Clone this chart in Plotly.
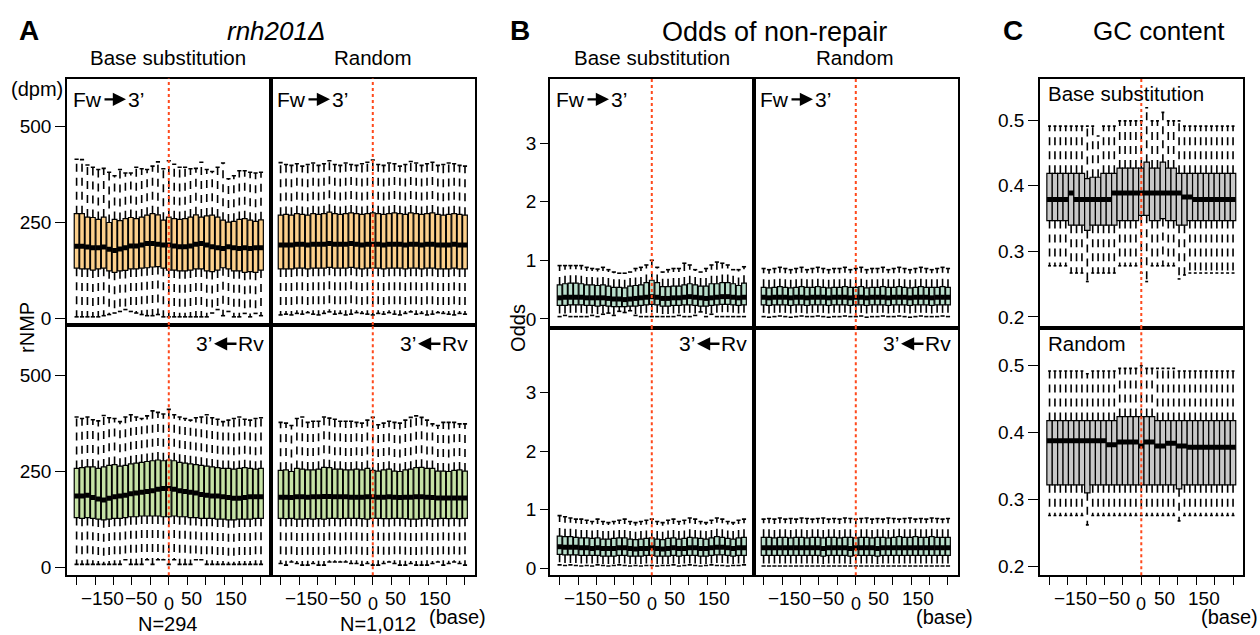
import numpy as np
import plotly.graph_objects as go

W, H = 1260, 635
FONT = "Liberation Sans, Arial, Helvetica, sans-serif"

# ---------------- categories / axes ----------------
positions = [-221, -208, -195, -182, -169, -156, -143, -130, -117, -104, -91, -78,
             -65, -52, -39, -26, -13, 0, 13, 26, 39, 52, 65, 78, 91, 104, 117,
             130, 143, 156, 169, 182, 195, 208, 221]
x_tick_positions = [-221, -176.8, -132.6, -88.4, -44.2, 0, 44.2, 88.4, 132.6, 176.8, 221]
x_label_values = [-150, -50, 50, 150]
x_label_text = ["\u2212150", "\u221250", "50", "150"]
x_label_shift = [-4, -7, 2, 0]
center_pos = 0

a_y_ticks = [0, 250, 500]
b_y_ticks = [0, 1, 2, 3]
c_y_ticks = [0.2, 0.3, 0.4, 0.5]

# ---------------- A: rNMP (dpm) ----------------
# Base substitution, Fw
a_bs_fw_upper = [414, 413, 399, 393, 387, 390, 380, 371, 387, 378, 378, 393, 389, 387, 396, 407, 389,
                 410, 401, 393, 393, 389, 390, 406, 387, 382, 393, 404, 363, 371, 384, 384, 380, 378, 380]
a_bs_fw_q3 = [272, 272, 263, 262, 257, 263, 249, 257, 254, 259, 262, 259, 263, 268, 272, 269, 255,
              263, 259, 257, 259, 263, 269, 263, 266, 268, 263, 255, 250, 252, 257, 259, 255, 252, 256]
a_bs_fw_med = [187, 187, 185, 183, 183, 185, 179, 176, 180, 183, 188, 188, 190, 194, 194, 192, 190,
               190, 188, 186, 186, 188, 192, 194, 190, 186, 183, 181, 186, 183, 181, 183, 181, 183, 183]
a_bs_fw_q1 = [130, 128, 128, 125, 128, 130, 123, 119, 123, 124, 128, 128, 130, 131, 133, 134, 130,
              125, 125, 123, 123, 125, 128, 128, 123, 121, 125, 131, 128, 123, 123, 119, 121, 119, 125]
a_bs_fw_lower = [3, 3, 3, 3, 3, 6, 9, 13, 17, 22, 17, 13, 9, 6, 6, 9, 3,
                 3, 3, 3, 3, 3, 3, 3, 3, 13, 22, 6, 17, 3, 3, 12, 3, 12, 6]
# Random, Fw
a_rd_fw_upper = [405, 400, 398, 402, 396, 400, 404, 398, 402, 410, 400, 398, 404, 400, 398, 402, 406,
                 412, 400, 398, 404, 402, 396, 400, 408, 404, 398, 402, 406, 398, 400, 404, 402, 398, 396]
a_rd_fw_q3 = [268, 270, 268, 272, 270, 268, 272, 270, 272, 276, 272, 270, 272, 274, 272, 270, 272,
              274, 272, 270, 272, 274, 272, 270, 274, 272, 270, 272, 274, 270, 268, 270, 272, 270, 268]
a_rd_fw_med = [190, 190, 190, 192, 192, 190, 192, 192, 192, 194, 192, 192, 192, 194, 192, 190, 192,
               192, 192, 190, 192, 192, 192, 190, 192, 192, 190, 192, 192, 190, 190, 190, 192, 190, 190]
a_rd_fw_q1 = [128, 128, 128, 130, 130, 128, 130, 130, 130, 132, 130, 130, 130, 132, 130, 128, 130,
              130, 130, 128, 130, 130, 130, 128, 130, 130, 128, 130, 130, 128, 128, 128, 130, 128, 128]
a_rd_fw_lower = [8, 10, 8, 12, 10, 14, 10, 8, 12, 16, 10, 12, 8, 10, 14, 12, 10,
                 8, 12, 10, 14, 10, 8, 12, 16, 10, 12, 8, 10, 14, 12, 10, 8, 12, 10]
# Base substitution, Rv
a_bs_rv_upper = [392, 388, 392, 385, 382, 396, 390, 388, 380, 392, 398, 392, 388, 395, 408, 404, 400,
                 412, 398, 392, 388, 384, 390, 392, 398, 390, 386, 380, 384, 388, 392, 386, 384, 388, 390]
a_bs_rv_q3 = [258, 260, 262, 262, 258, 262, 266, 268, 264, 266, 270, 272, 274, 276, 278, 280, 278,
              280, 278, 274, 272, 270, 268, 266, 264, 262, 260, 258, 258, 256, 258, 260, 258, 256, 258]
a_bs_rv_med = [186, 186, 188, 182, 178, 176, 180, 184, 186, 188, 192, 194, 196, 198, 200, 204, 206,
               206, 204, 200, 198, 196, 194, 190, 188, 186, 186, 184, 182, 180, 180, 182, 184, 184, 184]
a_bs_rv_q1 = [130, 128, 130, 128, 126, 124, 126, 128, 128, 130, 132, 132, 134, 134, 134, 134, 132,
              132, 134, 132, 132, 130, 130, 128, 128, 128, 126, 126, 124, 124, 126, 126, 126, 128, 128]
a_bs_rv_lower = [8, 8, 8, 8, 8, 8, 8, 8, 8, 20, 8, 8, 8, 20, 8, 20, 20,
                 8, 20, 8, 8, 8, 20, 20, 8, 8, 8, 8, 8, 8, 8, 8, 8, 8, 8]
# Random, Rv
a_rd_rv_upper = [378, 376, 370, 388, 392, 378, 381, 381, 392, 389, 386, 381, 381, 381, 378, 376, 384,
                 391, 372, 376, 381, 378, 376, 384, 391, 395, 391, 384, 374, 370, 378, 378, 378, 374, 374]
a_rd_rv_q3 = [253, 254, 250, 258, 256, 254, 254, 256, 261, 260, 256, 256, 254, 254, 256, 254, 258,
              253, 251, 254, 256, 251, 250, 254, 256, 260, 261, 258, 258, 251, 251, 250, 253, 254, 251]
a_rd_rv_med = [183, 183, 182, 184, 184, 183, 184, 184, 185, 185, 184, 184, 184, 183, 183, 183, 184,
               184, 183, 183, 184, 183, 182, 183, 183, 184, 184, 183, 182, 181, 181, 181, 181, 181, 181]
a_rd_rv_q1 = [128, 127, 128, 126, 126, 127, 126, 127, 126, 128, 128, 127, 128, 128, 128, 127, 126,
              128, 128, 127, 127, 128, 128, 127, 126, 126, 127, 128, 126, 127, 128, 127, 128, 127, 128]
a_rd_rv_lower = [10, 6, 14, 10, 6, 6, 10, 6, 6, 14, 14, 14, 14, 10, 10, 6, 10,
                 6, 6, 10, 14, 10, 6, 6, 10, 6, 6, 6, 10, 14, 6, 10, 14, 10, 6]

# ---------------- B: odds of non-repair ----------------
b_bs_fw_upper = [0.91, 0.91, 0.91, 0.91, 0.91, 0.88, 0.86, 0.85, 0.88, 0.84, 0.80, 0.78, 0.78, 0.80, 0.86, 0.88, 0.92,
                 1.00, 0.88, 0.80, 0.84, 0.86, 0.86, 0.95, 0.92, 0.84, 0.80, 0.86, 0.92, 0.97, 0.95, 0.92, 0.84, 0.84, 0.89]
b_bs_fw_q3 = [0.58, 0.60, 0.61, 0.61, 0.60, 0.58, 0.58, 0.57, 0.58, 0.56, 0.54, 0.54, 0.53, 0.56, 0.57, 0.58, 0.62,
              0.66, 0.62, 0.55, 0.55, 0.56, 0.56, 0.58, 0.60, 0.58, 0.56, 0.56, 0.60, 0.60, 0.62, 0.62, 0.60, 0.57, 0.61]
b_bs_fw_med = [0.36, 0.37, 0.37, 0.37, 0.37, 0.36, 0.36, 0.36, 0.36, 0.35, 0.34, 0.34, 0.33, 0.34, 0.35, 0.36, 0.37,
               0.38, 0.37, 0.35, 0.35, 0.36, 0.36, 0.37, 0.38, 0.37, 0.36, 0.35, 0.36, 0.37, 0.38, 0.38, 0.37, 0.36, 0.37]
b_bs_fw_q1 = [0.23, 0.23, 0.24, 0.24, 0.24, 0.23, 0.23, 0.22, 0.23, 0.22, 0.21, 0.21, 0.21, 0.22, 0.22, 0.23, 0.24,
              0.25, 0.24, 0.22, 0.22, 0.23, 0.23, 0.24, 0.24, 0.23, 0.22, 0.22, 0.23, 0.24, 0.25, 0.25, 0.24, 0.23, 0.24]
b_bs_fw_lower = [0.04, 0.06, 0.04, 0.04, 0.04, 0.04, 0.06, 0.04, 0.08, 0.10, 0.06, 0.13, 0.11, 0.14, 0.06, 0.04, 0.04,
                 0.04, 0.04, 0.04, 0.04, 0.04, 0.06, 0.04, 0.04, 0.06, 0.12, 0.04, 0.08, 0.04, 0.04, 0.04, 0.04, 0.04, 0.04]

b_rd_fw_upper = [0.86, 0.84, 0.86, 0.88, 0.86, 0.84, 0.86, 0.88, 0.84, 0.86, 0.88, 0.86, 0.84, 0.86, 0.86, 0.88, 0.84,
                 0.86, 0.88, 0.84, 0.86, 0.86, 0.88, 0.84, 0.86, 0.88, 0.86, 0.84, 0.86, 0.88, 0.86, 0.84, 0.86, 0.88, 0.86]
b_rd_fw_q3 = [0.54, 0.53, 0.54, 0.55, 0.54, 0.53, 0.54, 0.55, 0.54, 0.54, 0.55, 0.54, 0.53, 0.54, 0.54, 0.55, 0.54,
              0.54, 0.55, 0.53, 0.54, 0.54, 0.55, 0.54, 0.54, 0.55, 0.54, 0.53, 0.54, 0.55, 0.54, 0.54, 0.54, 0.55, 0.54]
b_rd_fw_med = [0.37, 0.36, 0.37, 0.37, 0.37, 0.36, 0.37, 0.37, 0.36, 0.37, 0.37, 0.37, 0.36, 0.37, 0.37, 0.37, 0.36,
               0.37, 0.37, 0.36, 0.37, 0.37, 0.37, 0.36, 0.37, 0.37, 0.37, 0.36, 0.37, 0.37, 0.37, 0.36, 0.37, 0.37, 0.37]
b_rd_fw_q1 = [0.24, 0.23, 0.24, 0.24, 0.24, 0.23, 0.24, 0.24, 0.23, 0.24, 0.24, 0.24, 0.23, 0.24, 0.24, 0.24, 0.23,
              0.24, 0.24, 0.23, 0.24, 0.24, 0.24, 0.23, 0.24, 0.24, 0.24, 0.23, 0.24, 0.24, 0.24, 0.23, 0.24, 0.24, 0.24]
b_rd_fw_lower = [0.04, 0.03, 0.04, 0.05, 0.04, 0.03, 0.04, 0.05, 0.04, 0.04, 0.05, 0.04, 0.03, 0.04, 0.04, 0.05, 0.04,
                 0.04, 0.05, 0.03, 0.04, 0.04, 0.05, 0.04, 0.04, 0.05, 0.04, 0.03, 0.04, 0.05, 0.04, 0.04, 0.04, 0.05, 0.04]

b_bs_rv_upper = [0.90, 0.88, 0.86, 0.84, 0.84, 0.82, 0.80, 0.84, 0.80, 0.78, 0.80, 0.82, 0.84, 0.80, 0.78, 0.80, 0.82,
                 0.84, 0.80, 0.78, 0.82, 0.84, 0.80, 0.82, 0.86, 0.84, 0.80, 0.78, 0.82, 0.86, 0.84, 0.80, 0.78, 0.82, 0.84]
b_bs_rv_q3 = [0.55, 0.54, 0.54, 0.53, 0.52, 0.52, 0.51, 0.52, 0.50, 0.50, 0.51, 0.52, 0.52, 0.50, 0.49, 0.50, 0.51,
              0.52, 0.50, 0.49, 0.51, 0.52, 0.50, 0.51, 0.53, 0.52, 0.51, 0.50, 0.52, 0.54, 0.53, 0.51, 0.50, 0.52, 0.53]
b_bs_rv_med = [0.37, 0.36, 0.36, 0.36, 0.35, 0.35, 0.34, 0.35, 0.34, 0.34, 0.34, 0.35, 0.35, 0.34, 0.33, 0.34, 0.34,
               0.35, 0.34, 0.33, 0.34, 0.35, 0.34, 0.34, 0.35, 0.35, 0.34, 0.34, 0.35, 0.36, 0.36, 0.35, 0.34, 0.35, 0.35]
b_bs_rv_q1 = [0.24, 0.23, 0.23, 0.23, 0.22, 0.22, 0.22, 0.22, 0.21, 0.21, 0.21, 0.22, 0.22, 0.21, 0.21, 0.21, 0.22,
              0.22, 0.21, 0.21, 0.21, 0.22, 0.21, 0.22, 0.22, 0.22, 0.21, 0.21, 0.22, 0.23, 0.23, 0.22, 0.21, 0.22, 0.22]
b_bs_rv_lower = [0.06, 0.05, 0.06, 0.05, 0.04, 0.05, 0.04, 0.06, 0.05, 0.04, 0.05, 0.06, 0.05, 0.04, 0.05, 0.04, 0.05,
                 0.05, 0.04, 0.05, 0.05, 0.06, 0.04, 0.05, 0.06, 0.05, 0.04, 0.05, 0.06, 0.05, 0.05, 0.04, 0.05, 0.05, 0.06]

b_rd_rv_upper = [0.84, 0.85, 0.84, 0.86, 0.84, 0.85, 0.84, 0.86, 0.85, 0.84, 0.85, 0.86, 0.84, 0.85, 0.84, 0.86, 0.85,
                 0.84, 0.85, 0.86, 0.84, 0.85, 0.84, 0.86, 0.85, 0.84, 0.85, 0.86, 0.84, 0.85, 0.84, 0.86, 0.85, 0.84, 0.85]
b_rd_rv_q3 = [0.53, 0.53, 0.52, 0.53, 0.53, 0.52, 0.53, 0.53, 0.52, 0.53, 0.53, 0.52, 0.53, 0.53, 0.52, 0.53, 0.53,
              0.52, 0.53, 0.53, 0.52, 0.53, 0.53, 0.52, 0.53, 0.54, 0.53, 0.53, 0.54, 0.53, 0.53, 0.54, 0.53, 0.53, 0.53]
b_rd_rv_med = [0.35, 0.35, 0.35, 0.35, 0.35, 0.35, 0.35, 0.35, 0.35, 0.35, 0.35, 0.34, 0.35, 0.35, 0.35, 0.35, 0.34,
               0.35, 0.35, 0.35, 0.35, 0.34, 0.35, 0.35, 0.35, 0.35, 0.35, 0.35, 0.35, 0.35, 0.35, 0.35, 0.35, 0.35, 0.35]
b_rd_rv_q1 = [0.22, 0.22, 0.22, 0.22, 0.22, 0.22, 0.22, 0.22, 0.22, 0.22, 0.22, 0.21, 0.22, 0.22, 0.22, 0.22, 0.21,
              0.22, 0.22, 0.22, 0.22, 0.21, 0.22, 0.22, 0.22, 0.22, 0.22, 0.22, 0.22, 0.22, 0.22, 0.22, 0.22, 0.22, 0.22]
b_rd_rv_lower = [0.04, 0.04, 0.04, 0.04, 0.04, 0.04, 0.04, 0.04, 0.04, 0.04, 0.04, 0.04, 0.04, 0.04, 0.04, 0.04, 0.04,
                 0.04, 0.04, 0.04, 0.04, 0.04, 0.04, 0.04, 0.04, 0.04, 0.04, 0.04, 0.04, 0.04, 0.04, 0.04, 0.04, 0.04, 0.04]

# ---------------- C: GC content ----------------
c_bs_upper = [0.491, 0.491, 0.491, 0.491, 0.491, 0.491, 0.491, 0.491, 0.491, 0.476, 0.491, 0.491, 0.491, 0.499, 0.499, 0.499, 0.499,
              0.499, 0.519, 0.499, 0.499, 0.512, 0.499, 0.499, 0.499, 0.491, 0.491, 0.491, 0.491, 0.491, 0.491, 0.491, 0.491, 0.491, 0.491]
c_bs_q3 = [0.419, 0.419, 0.419, 0.419, 0.419, 0.419, 0.419, 0.411, 0.413, 0.413, 0.419, 0.419, 0.419, 0.427, 0.427, 0.427, 0.427,
           0.427, 0.436, 0.427, 0.427, 0.436, 0.427, 0.427, 0.419, 0.419, 0.419, 0.419, 0.419, 0.419, 0.419, 0.419, 0.419, 0.419, 0.419]
c_bs_med = [0.379, 0.379, 0.379, 0.379, 0.389, 0.379, 0.379, 0.379, 0.379, 0.379, 0.379, 0.379, 0.389, 0.389, 0.389, 0.389, 0.389,
            0.389, 0.389, 0.389, 0.389, 0.389, 0.389, 0.389, 0.389, 0.383, 0.383, 0.379, 0.379, 0.379, 0.379, 0.379, 0.379, 0.379, 0.379]
c_bs_q1 = [0.347, 0.347, 0.347, 0.347, 0.340, 0.340, 0.340, 0.332, 0.340, 0.340, 0.340, 0.340, 0.340, 0.347, 0.347, 0.347, 0.347,
           0.355, 0.355, 0.347, 0.347, 0.350, 0.347, 0.347, 0.340, 0.340, 0.347, 0.347, 0.347, 0.347, 0.347, 0.347, 0.347, 0.347, 0.347]
c_bs_lower = [0.278, 0.278, 0.278, 0.278, 0.267, 0.267, 0.267, 0.254, 0.267, 0.267, 0.267, 0.267, 0.267, 0.278, 0.278, 0.278, 0.278,
              0.267, 0.254, 0.278, 0.278, 0.278, 0.278, 0.278, 0.258, 0.264, 0.267, 0.267, 0.267, 0.267, 0.267, 0.267, 0.267, 0.267, 0.267]

c_rd_upper = [0.492, 0.492, 0.492, 0.492, 0.492, 0.492, 0.492, 0.488, 0.492, 0.492, 0.492, 0.492, 0.492, 0.496, 0.496, 0.496, 0.496,
              0.500, 0.496, 0.496, 0.496, 0.496, 0.496, 0.496, 0.492, 0.492, 0.492, 0.492, 0.492, 0.492, 0.492, 0.492, 0.492, 0.492, 0.492]
c_rd_q3 = [0.418, 0.418, 0.418, 0.418, 0.418, 0.418, 0.418, 0.418, 0.418, 0.418, 0.418, 0.418, 0.418, 0.424, 0.424, 0.424, 0.424,
           0.424, 0.424, 0.424, 0.418, 0.418, 0.418, 0.418, 0.418, 0.418, 0.418, 0.418, 0.418, 0.418, 0.418, 0.418, 0.418, 0.418, 0.418]
c_rd_med = [0.388, 0.388, 0.388, 0.388, 0.388, 0.388, 0.388, 0.388, 0.388, 0.388, 0.388, 0.382, 0.382, 0.386, 0.386, 0.386, 0.386,
            0.380, 0.386, 0.386, 0.380, 0.380, 0.384, 0.384, 0.380, 0.380, 0.378, 0.378, 0.378, 0.378, 0.378, 0.378, 0.378, 0.378, 0.378]
c_rd_q1 = [0.322, 0.322, 0.322, 0.322, 0.322, 0.322, 0.322, 0.310, 0.322, 0.322, 0.322, 0.322, 0.322, 0.322, 0.322, 0.322, 0.322,
           0.322, 0.322, 0.322, 0.322, 0.322, 0.322, 0.322, 0.316, 0.322, 0.322, 0.322, 0.322, 0.322, 0.322, 0.322, 0.322, 0.322, 0.322]
c_rd_lower = [0.276, 0.276, 0.276, 0.276, 0.276, 0.276, 0.276, 0.262, 0.276, 0.276, 0.276, 0.276, 0.276, 0.276, 0.276, 0.276, 0.276,
              0.276, 0.276, 0.276, 0.276, 0.276, 0.276, 0.276, 0.268, 0.276, 0.276, 0.276, 0.276, 0.276, 0.276, 0.276, 0.276, 0.276, 0.276]

# ---------------- styling ----------------
ORANGE = "#FCD08C"
GREEN = "#C6E2A6"
MINT = "#B9DECB"
GREY = "#C8C8C8"
RED = "#FF4A1C"
TICK_SIZE = 19


def px(x):
    return x / W


def py(y):
    return 1 - y / H


# panel definitions: id -> (x pixel span, y pixel span, y range, data, fill, box width, cap width, left?, bottom?, yticks)
panels = {
    1: ((67, 271), (79, 327), (-18.1, 624.4), (a_bs_fw_lower, a_bs_fw_q1, a_bs_fw_med, a_bs_fw_q3, a_bs_fw_upper), ORANGE, 11.3, 10, True, False, a_y_ticks),
    2: ((271, 475), (79, 327), (-18.1, 624.4), (a_rd_fw_lower, a_rd_fw_q1, a_rd_fw_med, a_rd_fw_q3, a_rd_fw_upper), ORANGE, 11.3, 10, False, False, a_y_ticks),
    3: ((67, 271), (327, 579), (-20.7, 632), (a_bs_rv_lower, a_bs_rv_q1, a_bs_rv_med, a_bs_rv_q3, a_bs_rv_upper), GREEN, 11.3, 10, True, True, a_y_ticks),
    4: ((271, 475), (327, 579), (-20.7, 632), (a_rd_rv_lower, a_rd_rv_q1, a_rd_rv_med, a_rd_rv_q3, a_rd_rv_upper), GREEN, 11.3, 10, False, True, a_y_ticks),
    5: ((550, 754), (79, 330), (-0.153, 4.10), (b_bs_fw_lower, b_bs_fw_q1, b_bs_fw_med, b_bs_fw_q3, b_bs_fw_upper), MINT, 11.3, 10, True, False, b_y_ticks),
    6: ((754, 958), (79, 330), (-0.153, 4.10), (b_rd_fw_lower, b_rd_fw_q1, b_rd_fw_med, b_rd_fw_q3, b_rd_fw_upper), MINT, 11.3, 10, False, False, b_y_ticks),
    7: ((550, 754), (330, 579), (-0.119, 4.10), (b_bs_rv_lower, b_bs_rv_q1, b_bs_rv_med, b_bs_rv_q3, b_bs_rv_upper), MINT, 11.3, 10, True, True, b_y_ticks),
    8: ((754, 958), (330, 579), (-0.119, 4.10), (b_rd_rv_lower, b_rd_rv_q1, b_rd_rv_med, b_rd_rv_q3, b_rd_rv_upper), MINT, 11.3, 10, False, True, b_y_ticks),
    9: ((1040, 1243), (79, 330), (0.1833, 0.5636), (c_bs_lower, c_bs_q1, c_bs_med, c_bs_q3, c_bs_upper), GREY, 13.0, 7, True, False, c_y_ticks),
    10: ((1040, 1243), (330, 579), (0.1866, 0.5565), (c_rd_lower, c_rd_q1, c_rd_med, c_rd_q3, c_rd_upper), GREY, 13.0, 7, True, True, c_y_ticks),
}

fig = go.Figure()
layout_axes = {}
shapes = []
annotations = []

pos = np.array(positions, dtype=float)
n = len(pos)
nan_col = np.full(n, np.nan)


def segs(x0, x1, y0, y1):
    return (np.column_stack([x0, x1, nan_col]).ravel(),
            np.column_stack([y0, y1, nan_col]).ravel())


for k, (xs, ys, yr, data, fill, bw, cw, left, bottom, yt) in panels.items():
    lo, q1, med, q3, up = [np.array(d, dtype=float) for d in data]
    for d in data:
        assert len(d) == n, (k, len(d))
    suffix = "" if k == 1 else str(k)
    xa, ya = "x" + suffix, "y" + suffix
    # whiskers (dashed)
    wx1, wy1 = segs(pos, pos, q3, up)
    wx2, wy2 = segs(pos, pos, q1, lo)
    fig.add_trace(go.Scatter(x=np.concatenate([wx1, wx2]), y=np.concatenate([wy1, wy2]),
                             mode="lines", line=dict(color="black", width=1.6, dash="8px,6px"),
                             xaxis=xa, yaxis=ya, hoverinfo="skip", showlegend=False))
    # boxes
    fig.add_trace(go.Bar(x=pos, y=q3 - q1, base=q1, width=bw,
                         marker=dict(color=fill, line=dict(color="black", width=1.2)),
                         xaxis=xa, yaxis=ya, hoverinfo="skip", showlegend=False))
    # medians
    mx, my = segs(pos - bw / 2, pos + bw / 2, med, med)
    fig.add_trace(go.Scatter(x=mx, y=my, mode="lines", line=dict(color="black", width=5),
                             xaxis=xa, yaxis=ya, hoverinfo="skip", showlegend=False))
    # caps
    cx1, cy1 = segs(pos - cw / 2, pos + cw / 2, up, up)
    cx2, cy2 = segs(pos - cw / 2, pos + cw / 2, lo, lo)
    fig.add_trace(go.Scatter(x=np.concatenate([cx1, cx2]), y=np.concatenate([cy1, cy2]),
                             mode="lines", line=dict(color="black", width=1.6),
                             xaxis=xa, yaxis=ya, hoverinfo="skip", showlegend=False))

    layout_axes["xaxis" + suffix] = dict(
        domain=[px(xs[0]), px(xs[1])], anchor=ya, range=[-244, 245],
        showgrid=False, zeroline=False, showline=True, mirror=True,
        linecolor="black", linewidth=1.5,
        ticks="outside" if bottom else "", ticklen=8, tickwidth=1.3, tickcolor="black",
        tickvals=x_tick_positions if bottom else [], showticklabels=False,
    )
    tl = 10 if k in (1, 3, 9, 10) else 8
    layout_axes["yaxis" + suffix] = dict(
        domain=[py(ys[1]), py(ys[0])], anchor=xa, range=list(yr),
        showgrid=False, zeroline=False, showline=True, mirror=True,
        linecolor="black", linewidth=1.5,
        ticks="outside" if left else "", ticklen=tl, tickwidth=1.3, tickcolor="black",
        tickvals=yt if left else [], ticktext=[str(v) for v in yt] if left else [],
        showticklabels=left, tickfont=dict(family=FONT, size=TICK_SIZE, color="black"),
    )
    # dotted centre line
    shapes.append(dict(type="line", xref=xa, yref=f"{ya} domain", x0=center_pos, x1=center_pos,
                       y0=0, y1=1, line=dict(color=RED, width=2, dash="dot"), layer="above"))
    # x tick labels
    if bottom:
        for v, t, sh in zip(x_label_values, x_label_text, x_label_shift):
            annotations.append(dict(text=t, x=v, y=py(602), xref=xa, yref="paper", xshift=sh,
                                    showarrow=False, xanchor="center", yanchor="middle",
                                    font=dict(family=FONT, size=TICK_SIZE, color="black")))
        annotations.append(dict(text="0", x=center_pos, y=py(608), xref=xa, yref="paper",
                                showarrow=False, xanchor="center", yanchor="middle",
                                font=dict(family=FONT, size=18, color="black")))


def ann(text, x, y, size=20, xanchor="center", yanchor="middle", **kw):
    d = dict(text=text, x=px(x), y=py(y), xref="paper", yref="paper", showarrow=False,
             xanchor=xanchor, yanchor=yanchor, font=dict(family=FONT, size=size, color="black"))
    d.update(kw)
    annotations.append(d)


def arrow(x_tail, x_head, y):
    annotations.append(dict(text="", x=px(x_head), y=py(y), xref="paper", yref="paper",
                            ax=x_tail - x_head, ay=0, axref="pixel", ayref="pixel",
                            showarrow=True, arrowhead=2, arrowsize=1.1, arrowwidth=2.4,
                            arrowcolor="black", standoff=0, startstandoff=0))


def fw_label(L):
    ann("Fw", L + 4, 100, size=21, xanchor="left")
    arrow(L + 36, L + 59, 100)
    ann("3’", L + 59, 100, size=21, xanchor="left")


def rv_label(R):
    ann("Rv", R - 5, 346, size=21, xanchor="right")
    arrow(R - 33, R - 57, 346)
    ann("3’", R - 57, 346, size=21, xanchor="right")


for L in (67, 271, 550, 754):
    fw_label(L)
for R in (271, 475, 754, 958):
    rv_label(R)

# panel titles / headers
ann("<b>A</b>", 29, 31, size=28)
ann("<i>rnh201Δ</i>", 276, 31, size=26)
ann("Base substitution", 168, 58, size=20.5)
ann("Random", 373, 58, size=20.5)
ann("(dpm)", 37, 90, size=20)
ann("rNMP", 27, 330, size=20, textangle=-90)
ann("N=294", 168, 628, size=20)
ann("N=1,012", 378, 628, size=20)
ann("(base)", 427, 621, size=20, xanchor="left")

ann("<b>B</b>", 520, 31, size=28)
ann("Odds of non-repair", 774, 32, size=27)
ann("Base substitution", 652, 58, size=20.5)
ann("Random", 855, 58, size=20.5)
ann("Odds", 518, 330, size=20, textangle=-90)
ann("(base)", 914, 621, size=20, xanchor="left")

ann("<b>C</b>", 1013, 31, size=28)
ann("GC content", 1159, 31, size=26)
ann("Base substitution", 1046, 94, size=20.5, xanchor="left")
ann("Random", 1046, 346, size=20.5, xanchor="left")
ann("(base)", 1199, 621, size=20, xanchor="left")

fig.update_layout(
    width=W, height=H,
    margin=dict(l=0, r=0, t=0, b=0),
    paper_bgcolor="white", plot_bgcolor="white",
    barmode="overlay", showlegend=False,
    font=dict(family=FONT, size=18, color="black"),
    shapes=shapes, annotations=annotations,
    **layout_axes,
)

fig.write_html("out.html")
